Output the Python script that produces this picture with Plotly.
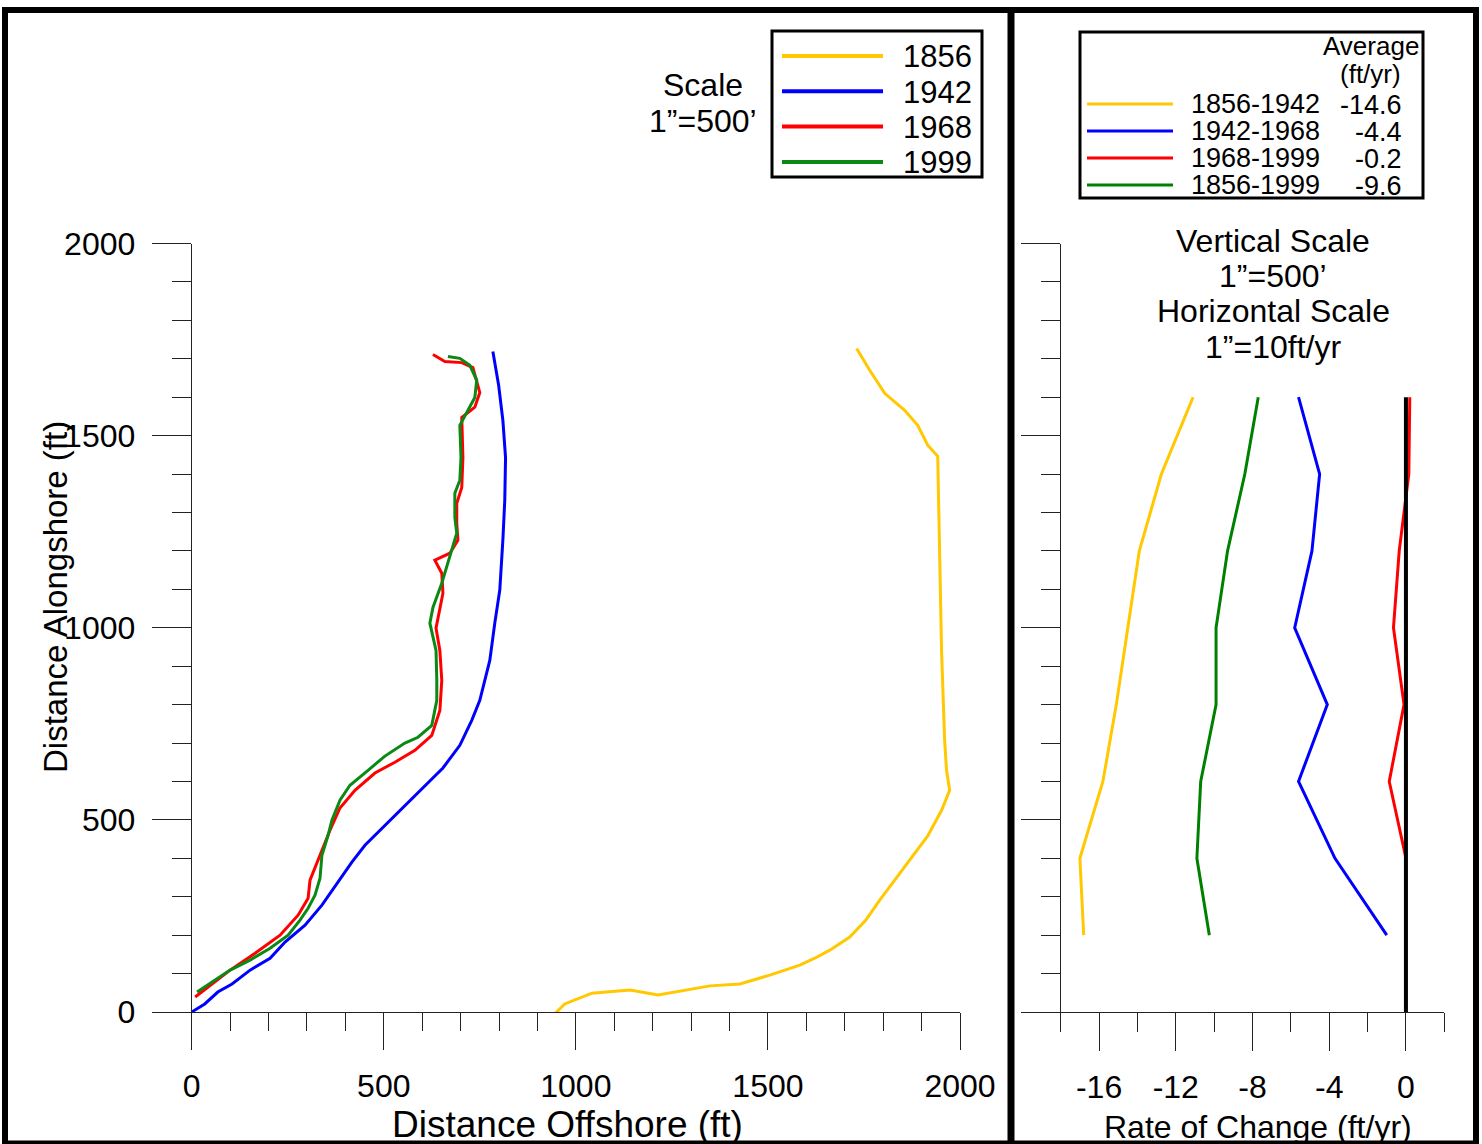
import plotly.graph_objects as go

W, H = 1482, 1144
FONT = "Liberation Sans, Arial, sans-serif"

# ---------------- data ----------------
# Left panel: shoreline positions (Distance Offshore ft, Distance Alongshore ft)
x1856 = [945, 971, 1042, 1141, 1214, 1284, 1349, 1427, 1505, 1583, 1622, 1661, 1713, 1755, 1791,
         1830, 1869, 1916, 1952, 1973, 1965, 1960, 1952, 1947, 1942, 1916, 1890, 1856, 1804, 1765, 1731]
y1856 = [-5, 21, 49, 57, 44, 57, 68, 73, 96, 122, 140, 161, 195, 239, 291,
         343, 395, 458, 525, 577, 629, 707, 941, 1176, 1446, 1475, 1527, 1566, 1610, 1670, 1727]

x1942 = [0, 34, 68, 105, 152, 204, 243, 295, 339, 380, 417, 451, 503, 555, 607, 654, 698, 729,
         750, 776, 789, 802, 810, 815, 817, 810, 799, 784]
y1942 = [0, 21, 52, 73, 109, 140, 182, 226, 278, 338, 390, 434, 486, 538, 590, 635, 694, 759,
         811, 915, 1012, 1098, 1228, 1332, 1443, 1540, 1631, 1719]

x1968 = [9, 48, 100, 165, 230, 277, 303, 308, 334, 360, 386, 425, 477, 529, 581, 625, 646, 651,
         646, 636, 654, 651, 633, 672, 693, 690, 690, 703, 706, 703, 737, 750, 732, 703, 659, 628]
y1968 = [39, 70, 109, 153, 200, 252, 296, 343, 408, 473, 531, 577, 622, 650, 681, 720, 785, 863,
         941, 999, 1090, 1142, 1176, 1194, 1228, 1272, 1324, 1365, 1443, 1547, 1574, 1612, 1677,
         1690, 1693, 1711]

x1999 = [14, 61, 100, 152, 204, 251, 282, 303, 321, 334, 339, 355, 365, 386, 412, 459, 503, 555,
         589, 625, 638, 638, 636, 620, 628, 651, 672, 690, 685, 685, 698, 701, 698, 720, 737, 742,
         724, 698, 667]
y1999 = [52, 83, 109, 135, 166, 200, 239, 270, 304, 348, 408, 460, 499, 551, 590, 629, 666, 700,
         715, 746, 811, 863, 941, 1012, 1053, 1116, 1183, 1246, 1287, 1350, 1384, 1443, 1527, 1566,
         1599, 1644, 1683, 1701, 1706]

years = ["1856", "1942", "1968", "1999"]
year_colors = ["#FFC800", "#0000FF", "#FF0000", "#0A8A14"]

# Right panel: rate of change (ft/yr) at alongshore stations
rate_y = [200, 400, 600, 800, 1000, 1200, 1400, 1600]
r1856_1942 = [-16.8, -17.0, -15.8, -15.1, -14.5, -13.9, -12.75, -11.1]
r1942_1968 = [-1.0, -3.7, -5.6, -4.1, -5.8, -4.9, -4.5, -5.6]
r1968_1999_y = [400, 600, 800, 1000, 1200, 1400, 1600]
r1968_1999 = [0.0, -0.87, -0.1, -0.65, -0.35, 0.15, 0.2]
r1856_1999 = [-10.25, -10.9, -10.7, -9.9, -9.9, -9.3, -8.4, -7.7]
zero_x = [0, 0]
zero_y = [0, 1600]

periods = ["1856-1942", "1942-1968", "1968-1999", "1856-1999"]
period_avg = ["-14.6", "-4.4", "-0.2", "-9.6"]
period_colors = ["#FFC800", "#0000FF", "#FF0000", "#008000"]

left_ticks = [0, 500, 1000, 1500, 2000]
rate_ticks = [-16, -12, -8, -4, 0]
rate_ticktext = ["-16", "-12", "-8", "-4", "0"]

# ---------------- helpers (pixel -> paper) ----------------
def px(v):
    return v / W

def py(v):
    return 1 - v / H

fig = go.Figure()

left_series = [(x1856, y1856), (x1942, y1942), (x1968, y1968), (x1999, y1999)]
for (xs, ys), name, c in zip(left_series, years, year_colors):
    fig.add_trace(go.Scatter(x=xs, y=ys, mode="lines", name=name,
                             line=dict(color=c, width=3), xaxis="x", yaxis="y",
                             showlegend=False))

right_series = [(r1856_1942, rate_y), (r1942_1968, rate_y),
                (r1968_1999, r1968_1999_y), (r1856_1999, rate_y)]
for (xs, ys), name, c in zip(right_series, periods, period_colors):
    fig.add_trace(go.Scatter(x=xs, y=ys, mode="lines", name=name,
                             line=dict(color=c, width=3), xaxis="x2", yaxis="y2",
                             showlegend=False))
fig.add_trace(go.Scatter(x=zero_x, y=zero_y, mode="lines", line=dict(color="black", width=4),
                         xaxis="x2", yaxis="y2", showlegend=False))

tickfont = dict(family=FONT, size=32, color="black")
ydom = [py(1012), py(243.5)]

axis_common = dict(showgrid=False, zeroline=False, showline=True, linecolor="#222",
                   linewidth=1, ticks="outside", tickcolor="#222", tickwidth=1,
                   tickfont=tickfont, automargin=False)

fig.update_layout(
    width=W, height=H,
    margin=dict(l=0, r=0, t=0, b=0, autoexpand=False),
    paper_bgcolor="white", plot_bgcolor="white",
    font=dict(family=FONT, color="black"),
    xaxis=dict(domain=[px(191.7), px(960)], range=[0, 2000], anchor="y",
               tickvals=left_ticks, ticklen=37,
               minor=dict(dtick=100, tick0=0, ticklen=18, ticks="outside", tickcolor="#222"),
               ticklabelstandoff=9, **axis_common),
    yaxis=dict(domain=ydom, range=[0, 2000], anchor="x",
               tickvals=left_ticks, ticklen=39,
               minor=dict(dtick=100, tick0=0, ticklen=19, ticks="outside", tickcolor="#222"),
               ticklabelstandoff=10, **axis_common),
    xaxis2=dict(domain=[px(1060.7), px(1444.3)], range=[-18, 2], anchor="y2",
                tickvals=rate_ticks, ticktext=rate_ticktext, ticklen=38,
                minor=dict(tick0=-18, dtick=4, ticklen=19, ticks="outside", tickcolor="#222"),
                ticklabelstandoff=9, **axis_common),
    yaxis2=dict(domain=ydom, range=[0, 2000], anchor="x2",
                tickvals=left_ticks, ticklen=39, showticklabels=False,
                minor=dict(dtick=100, tick0=0, ticklen=19, ticks="outside", tickcolor="#222"),
                **axis_common),
)

shapes = []
annotations = []


def note(text, x, y, size, xanchor="center"):
    annotations.append(dict(text=text, xref="paper", yref="paper", x=px(x), y=py(y),
                            xanchor=xanchor, yanchor="middle", showarrow=False,
                            font=dict(family=FONT, size=size, color="black")))


# outer frame and divider
shapes.append(dict(type="rect", xref="paper", yref="paper", x0=px(5), x1=px(1476),
                   y0=py(1143.5), y1=py(10), line=dict(color="black", width=6)))
shapes.append(dict(type="line", xref="paper", yref="paper", x0=px(1011), x1=px(1011),
                   y0=py(1144), y1=py(10), line=dict(color="black", width=7)))

# axis titles
note("Distance Offshore (ft)", 567, 1124, 37)
annotations.append(dict(text="Distance Alongshore (ft)", xref="paper", yref="paper",
                        x=px(55), y=py(597), xanchor="center", yanchor="middle",
                        showarrow=False, textangle=-90,
                        font=dict(family=FONT, size=33, color="black")))
note("Rate of Change (ft/yr)", 1258, 1127, 32)

# scale notes
for txt, yy in [("Scale", 85), ("1\u201d=500\u2019", 121)]:
    note(txt, 703, yy, 32)
for txt, yy in [("Vertical Scale", 241), ("1\u201d=500\u2019", 276),
                ("Horizontal Scale", 311), ("1\u201d=10ft/yr", 347)]:
    note(txt, 1273, yy, 32)

# left legend
shapes.append(dict(type="rect", xref="paper", yref="paper", x0=px(772), x1=px(982),
                   y0=py(177), y1=py(31), line=dict(color="black", width=3)))
for i, (name, c) in enumerate(zip(years, year_colors)):
    yy = 56 + i * 35.3
    shapes.append(dict(type="line", xref="paper", yref="paper", x0=px(782), x1=px(883),
                       y0=py(yy), y1=py(yy), line=dict(color=c, width=4)))
    note(name, 974, yy + 1, 31, "right")

# right legend
shapes.append(dict(type="rect", xref="paper", yref="paper", x0=px(1080), x1=px(1423),
                   y0=py(198), y1=py(32), line=dict(color="black", width=3)))
note("Average", 1421, 46, 26, "right")
note("(ft/yr)", 1403, 74, 26, "right")
for i, (name, avg, c) in enumerate(zip(periods, period_avg, period_colors)):
    yy = 104 + i * 27
    shapes.append(dict(type="line", xref="paper", yref="paper", x0=px(1087), x1=px(1173),
                       y0=py(yy), y1=py(yy), line=dict(color=c, width=3)))
    note(name, 1189, yy, 27, "left")
    note(avg, 1404, yy + 1, 27, "right")

fig.update_layout(shapes=shapes, annotations=annotations)
fig.write_html("out.html")
